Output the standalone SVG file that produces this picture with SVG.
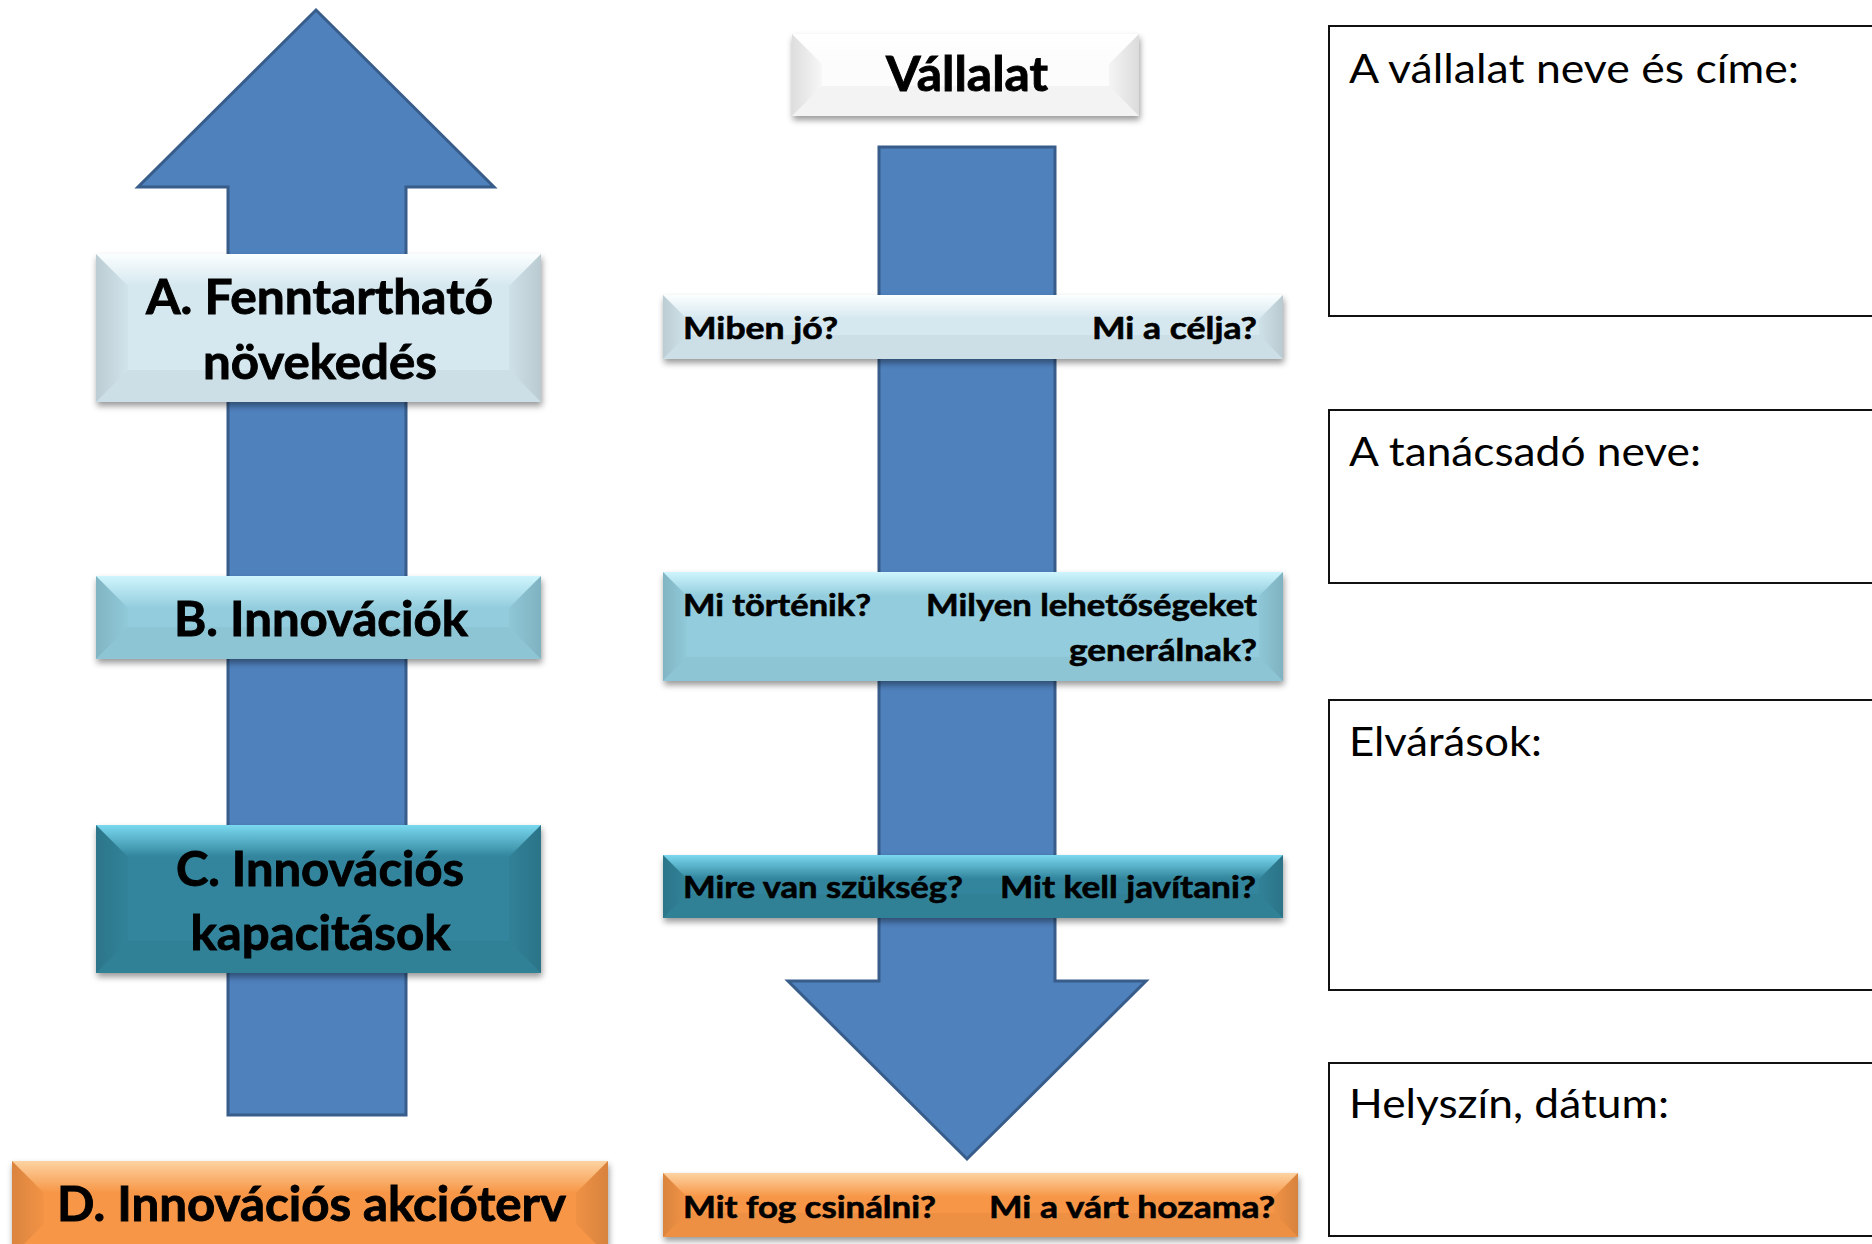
<svg xmlns="http://www.w3.org/2000/svg" width="1872" height="1244" viewBox="0 0 1872 1244">
<defs>
<style>
.arrow{fill:#4f81bd;stroke:#385d8a;stroke-width:3;stroke-linejoin:miter}
.bt{font-family:Lato,"Liberation Sans",sans-serif;font-weight:700;font-size:48px;fill:#000;stroke:#000;stroke-width:0.9}
.qt{font-family:Lato,"Liberation Sans",sans-serif;font-weight:700;font-size:30px;fill:#000;stroke:#000;stroke-width:0.6}
.rt{font-family:Lato,"Liberation Sans",sans-serif;font-weight:400;font-size:40px;fill:#000}
.frame{fill:#fff;stroke:#111;stroke-width:2}
.fl{fill:url(#gLeft)}
.fr{fill:url(#gRight)}
.fb{fill:#000;fill-opacity:0.035}
</style>
<filter id="sh" x="-5%" y="-20%" width="112%" height="150%">
<feDropShadow dx="1" dy="4" stdDeviation="3" flood-color="#000" flood-opacity="0.4"/>
</filter>
<linearGradient id="gLeft" x1="0" y1="0" x2="1" y2="0"><stop offset="0" stop-color="#000" stop-opacity="0.12"/><stop offset="1" stop-color="#000" stop-opacity="0.02"/></linearGradient>
<linearGradient id="gRight" x1="1" y1="0" x2="0" y2="0"><stop offset="0" stop-color="#000" stop-opacity="0.13"/><stop offset="1" stop-color="#000" stop-opacity="0.03"/></linearGradient>
<linearGradient id="tLight" x1="0" y1="0" x2="0" y2="1"><stop offset="0" stop-color="#fbfeff"/><stop offset="1" stop-color="#d5e8ef"/></linearGradient>
<linearGradient id="tMid" x1="0" y1="0" x2="0" y2="1"><stop offset="0" stop-color="#cff5fd"/><stop offset="1" stop-color="#93cddd"/></linearGradient>
<linearGradient id="tDark" x1="0" y1="0" x2="0" y2="1"><stop offset="0" stop-color="#7ad8ef"/><stop offset="1" stop-color="#31859c"/></linearGradient>
<linearGradient id="tOr" x1="0" y1="0" x2="0" y2="1"><stop offset="0" stop-color="#fdd3a2"/><stop offset="1" stop-color="#f79646"/></linearGradient>
<linearGradient id="tWh" x1="0" y1="0" x2="0" y2="1"><stop offset="0" stop-color="#ffffff"/><stop offset="1" stop-color="#fcfcfc"/></linearGradient>
</defs>
<rect width="1872" height="1244" fill="#fff"/>

<g id="connectors">
<path class="arrow" d="M316,10 L494,187 L406,187 L406,1115 L228,1115 L228,187 L138,187 Z"/>
<path class="arrow" d="M879,147 L1055,147 L1055,981 L1146,981 L967,1159 L788,981 L879,981 Z"/>
</g>

<g id="boxA">
<rect x="96" y="254" width="445" height="148" fill="#d5e8ef" filter="url(#sh)"/>
<polygon fill="url(#tLight)" points="96,254 541,254 509,286 128,286"/>
<polygon class="fl" points="96,254 128,286 128,370 96,402"/>
<polygon class="fr" points="541,254 541,402 509,370 509,286"/>
<polygon class="fb" points="96,402 128,370 509,370 541,402"/>
<text class="bt" x="146" y="314" textLength="347" lengthAdjust="spacingAndGlyphs">A. Fenntartható</text>
<text class="bt" x="203" y="379" textLength="234" lengthAdjust="spacingAndGlyphs">növekedés</text>
</g>

<g id="boxB">
<rect x="96" y="576" width="445" height="83" fill="#93cddd" filter="url(#sh)"/>
<polygon fill="url(#tMid)" points="96,576 541,576 509,608 128,608"/>
<polygon class="fl" points="96,576 128,608 128,627 96,659"/>
<polygon class="fr" points="541,576 541,659 509,627 509,608"/>
<polygon class="fb" points="96,659 128,627 509,627 541,659"/>
<text class="bt" x="174" y="636" textLength="294" lengthAdjust="spacingAndGlyphs">B. Innovációk</text>
</g>

<g id="boxC">
<rect x="96" y="825" width="445" height="148" fill="#31859c" filter="url(#sh)"/>
<polygon fill="url(#tDark)" points="96,825 541,825 509,857 128,857"/>
<polygon class="fl" points="96,825 128,857 128,941 96,973"/>
<polygon class="fr" points="541,825 541,973 509,941 509,857"/>
<polygon class="fb" points="96,973 128,941 509,941 541,973"/>
<text class="bt" x="176" y="886" textLength="288" lengthAdjust="spacingAndGlyphs">C. Innovációs</text>
<text class="bt" x="190.5" y="950" textLength="260" lengthAdjust="spacingAndGlyphs">kapacitások</text>
</g>

<g id="boxD">
<rect x="12" y="1161" width="596" height="95" fill="#f79646" filter="url(#sh)"/>
<polygon fill="url(#tOr)" points="12,1161 608,1161 576,1193 44,1193"/>
<polygon class="fl" points="12,1161 44,1193 44,1224 12,1256"/>
<polygon class="fr" points="608,1161 608,1256 576,1224 576,1193"/>
<text class="bt" x="57" y="1221" textLength="509" lengthAdjust="spacingAndGlyphs">D. Innovációs akcióterv</text>
</g>

<g id="vallalat">
<rect x="792" y="34" width="347" height="82" fill="#fcfcfc" filter="url(#sh)"/>
<polygon fill="url(#tWh)" points="792,34 1139,34 1109,64 822,64"/>
<polygon class="fl" points="792,34 822,64 822,86 792,116"/>
<polygon class="fr" points="1139,34 1139,116 1109,86 1109,64"/>
<polygon class="fb" points="792,116 822,86 1109,86 1139,116"/>
<text class="bt" x="886" y="91" textLength="162" lengthAdjust="spacingAndGlyphs">Vállalat</text>
</g>

<g id="q1">
<rect x="663" y="295" width="620" height="64" fill="#d5e8ef" filter="url(#sh)"/>
<polygon fill="url(#tLight)" points="663,295 1283,295 1259,319 687,319"/>
<polygon class="fl" points="663,295 687,319 687,335 663,359"/>
<polygon class="fr" points="1283,295 1283,359 1259,335 1259,319"/>
<polygon class="fb" points="663,359 687,335 1259,335 1283,359"/>
<text class="qt" x="683" y="339" textLength="155" lengthAdjust="spacingAndGlyphs">Miben jó?</text>
<text class="qt" x="1092" y="339" textLength="165" lengthAdjust="spacingAndGlyphs">Mi a célja?</text>
</g>

<g id="q2">
<rect x="663" y="572" width="620" height="109" fill="#93cddd" filter="url(#sh)"/>
<polygon fill="url(#tMid)" points="663,572 1283,572 1259,596 687,596"/>
<polygon class="fl" points="663,572 687,596 687,657 663,681"/>
<polygon class="fr" points="1283,572 1283,681 1259,657 1259,596"/>
<polygon class="fb" points="663,681 687,657 1259,657 1283,681"/>
<text class="qt" x="683" y="616" textLength="188" lengthAdjust="spacingAndGlyphs">Mi történik?</text>
<text class="qt" x="926" y="616" textLength="331" lengthAdjust="spacingAndGlyphs">Milyen lehetőségeket</text>
<text class="qt" x="1069" y="661" textLength="188" lengthAdjust="spacingAndGlyphs">generálnak?</text>
</g>

<g id="q3">
<rect x="663" y="855" width="620" height="63" fill="#31859c" filter="url(#sh)"/>
<polygon fill="url(#tDark)" points="663,855 1283,855 1259,879 687,879"/>
<polygon class="fl" points="663,855 687,879 687,894 663,918"/>
<polygon class="fr" points="1283,855 1283,918 1259,894 1259,879"/>
<polygon class="fb" points="663,918 687,894 1259,894 1283,918"/>
<text class="qt" x="683" y="898" textLength="280" lengthAdjust="spacingAndGlyphs">Mire van szükség?</text>
<text class="qt" x="1000" y="898" textLength="256" lengthAdjust="spacingAndGlyphs">Mit kell javítani?</text>
</g>

<g id="q4">
<rect x="663" y="1173" width="635" height="64" fill="#f79646" filter="url(#sh)"/>
<polygon fill="url(#tOr)" points="663,1173 1298,1173 1274,1197 687,1197"/>
<polygon class="fl" points="663,1173 687,1197 687,1213 663,1237"/>
<polygon class="fr" points="1298,1173 1298,1237 1274,1213 1274,1197"/>
<polygon class="fb" points="663,1237 687,1213 1274,1213 1298,1237"/>
<text class="qt" x="683" y="1218" textLength="253" lengthAdjust="spacingAndGlyphs">Mit fog csinálni?</text>
<text class="qt" x="989" y="1218" textLength="286" lengthAdjust="spacingAndGlyphs">Mi a várt hozama?</text>
</g>

<g id="field1">
<rect class="frame" x="1329" y="26" width="560" height="290"/>
<text class="rt" x="1349" y="83" textLength="450" lengthAdjust="spacingAndGlyphs">A vállalat neve és címe:</text>
</g>
<g id="field2">
<rect class="frame" x="1329" y="410" width="560" height="173"/>
<text class="rt" x="1349" y="466" textLength="352" lengthAdjust="spacingAndGlyphs">A tanácsadó neve:</text>
</g>
<g id="field3">
<rect class="frame" x="1329" y="700" width="560" height="290"/>
<text class="rt" x="1349" y="756" textLength="193" lengthAdjust="spacingAndGlyphs">Elvárások:</text>
</g>
<g id="field4">
<rect class="frame" x="1329" y="1063" width="560" height="173"/>
<text class="rt" x="1349" y="1118" textLength="320" lengthAdjust="spacingAndGlyphs">Helyszín, dátum:</text>
</g>
</svg>
